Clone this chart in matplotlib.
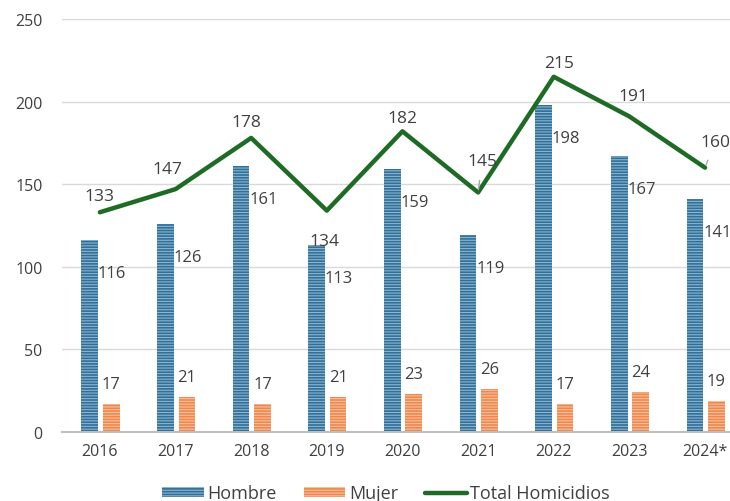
import matplotlib.pyplot as plt
import numpy as np

plt.rcParams['font.family'] = ['Open Sans', 'DejaVu Sans']
plt.rcParams['hatch.linewidth'] = 0.8

years = ['2016', '2017', '2018', '2019', '2020', '2021', '2022', '2023', '2024*']
hombre = [116, 126, 161, 113, 159, 119, 198, 167, 141]
mujer = [17, 21, 17, 21, 23, 26, 17, 24, 19]
total = [133, 147, 178, 134, 182, 145, 215, 191, 160]

# label offsets for the total line (pixels, dx/dy)
total_off = [(0, 16), (-8, 20), (-5, 16), (-2, -30), (0, 13), (4, 31), (5, 14), (4, 20), (10, 26)]
leader = [False, False, False, False, False, True, False, False, True]

blue = '#2F6F98'
orange = '#F0874A'
green = '#1E6B26'
txt = '#404040'

fig = plt.figure(figsize=(7.3, 5.02), dpi=100)
ax = fig.add_axes([0.085, 0.1375, 0.915, 0.8227])

x = np.arange(len(years))
w = 0.22
b1 = ax.bar(x - 0.135, hombre, w, color=blue, edgecolor='#8DB6D0', hatch='------',
            linewidth=0, label='Hombre', zorder=2)
b2 = ax.bar(x + 0.15, mujer, w, color=orange, edgecolor='#F8C0A0', hatch='------',
            linewidth=0, label='Mujer', zorder=2)
ax.plot(x, total, color=green, lw=3.2, label='Total Homicidios', zorder=3,
        solid_capstyle='round', solid_joinstyle='round')

for i in range(len(years)):
    ax.annotate(str(hombre[i]), (x[i] - 0.135 + w / 2, hombre[i]), xytext=(0, -33),
                textcoords='offset pixels', ha='left', va='center', fontsize=12, color=txt)
    ax.annotate(str(mujer[i]), (x[i] + 0.15, mujer[i]), xytext=(0, 20),
                textcoords='offset pixels', ha='center', va='center', fontsize=12, color=txt)
    dx, dy = total_off[i]
    props = dict(arrowstyle='-', color='#A6A6A6', lw=1, shrinkA=6, shrinkB=2) if leader[i] else None
    ax.annotate(str(total[i]), (x[i], total[i]), xytext=(dx, dy),
                textcoords='offset pixels', ha='center', va='center', fontsize=12.5, color=txt,
                arrowprops=props)

ax.set_ylim(0, 250)
ax.set_xlim(-0.5, 8.33)
ax.set_yticks(range(0, 251, 50))
ax.set_xticks(x)
ax.set_xticklabels(years)
ax.tick_params(axis='both', length=0, labelsize=11.5, colors=txt)
ax.tick_params(axis='y', pad=14)
ax.tick_params(axis='x', pad=8)
ax.yaxis.grid(True, color='#D9D9D9', lw=1)
ax.set_axisbelow(True)
for s in ['top', 'right', 'left']:
    ax.spines[s].set_visible(False)
ax.spines['bottom'].set_color('#BFBFBF')
ax.spines['bottom'].set_linewidth(1.5)

leg = fig.legend(handles=[b1, b2, ax.lines[0]], loc='center', bbox_to_anchor=(0.529, 0.015),
                 ncol=3, frameon=False, fontsize=13, handlelength=2.3, handleheight=0.5,
                 columnspacing=1.5, handletextpad=0.2, labelcolor=txt)

fig.savefig('out.png', dpi=100)
